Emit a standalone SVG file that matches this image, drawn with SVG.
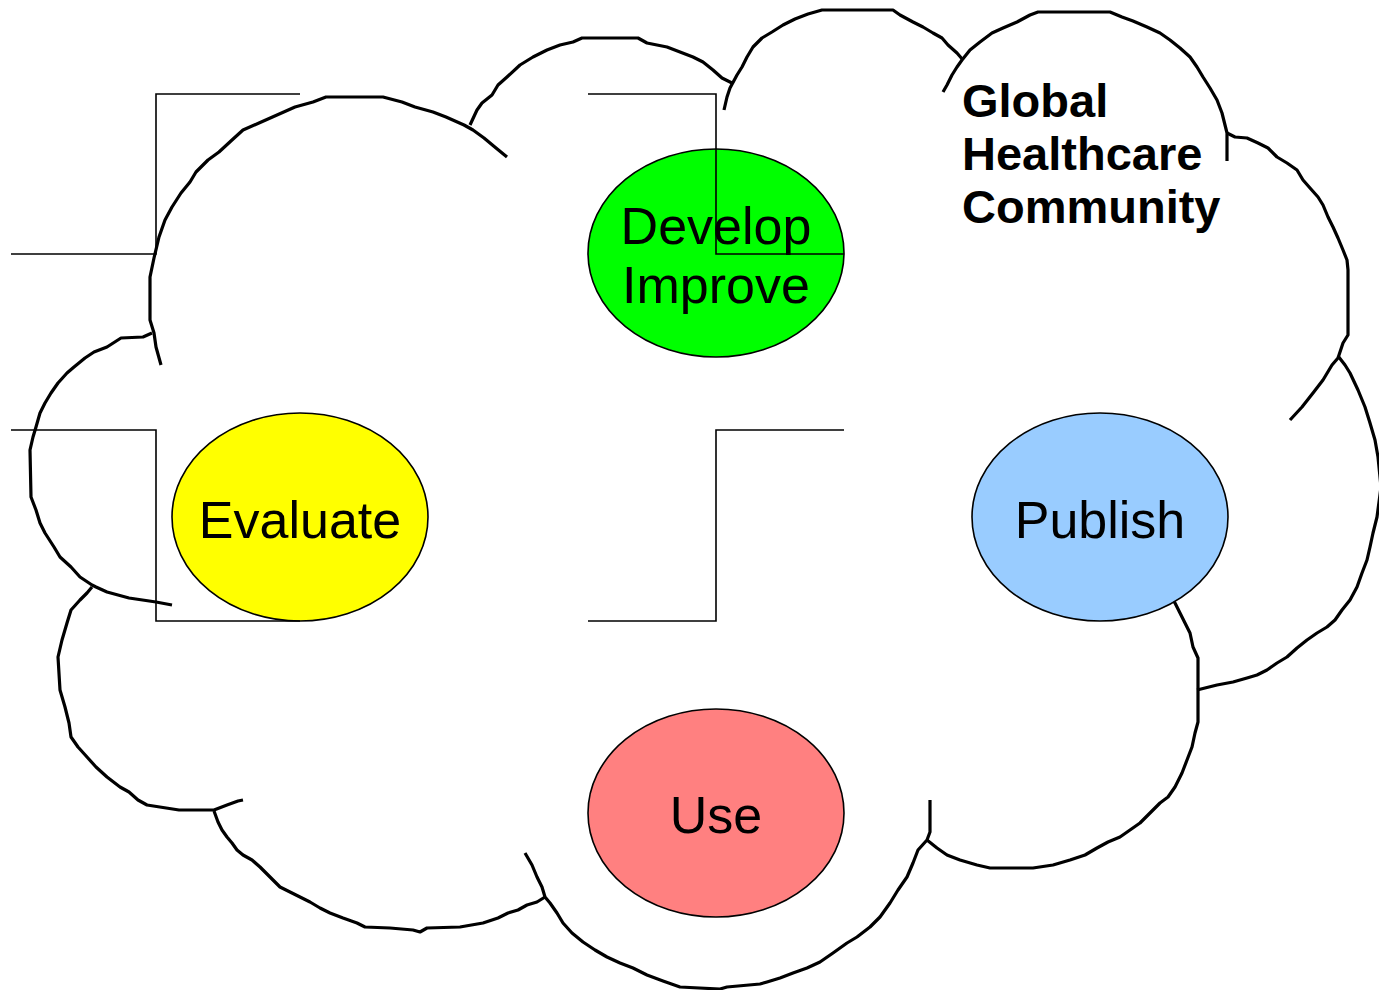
<svg xmlns="http://www.w3.org/2000/svg" width="1379" height="990" viewBox="0 0 1379 990">
<style>
.cloud{fill:none;stroke:#000;stroke-width:3.2;stroke-linejoin:round;stroke-linecap:butt}
.conn{fill:none;stroke:#000;stroke-width:1.6}
.node{stroke:#000;stroke-width:1.6}
.lbl{font-family:"Liberation Sans",Arial,sans-serif;font-size:52px;fill:#000;text-anchor:middle}
.title{font-family:"Liberation Sans",Arial,sans-serif;font-size:47px;font-weight:bold;fill:#000}
</style>
<rect width="1379" height="990" fill="#fff"/>
<g id="cloud">
<path class="cloud" d="M161,365 L156,347 L154,333 L150,320 L150,277 L154,258 L159,237 L165,220 L172,207 L181,193 L190,182 L196,172 L208,160 L219,152 L232,140 L243,130 L259,123 L277,115 L295,107 L313,102 L326,97 L383,97 L402,102 L415,107 L433,112 L446,117 L464,125 L473,130 L484,138 L496,148 L507,157"/>
<path class="cloud" d="M470,125 L477,110 L482,103 L492,95 L498,85 L507,77 L520,65 L533,57 L547,50 L560,45 L573,42 L582,38 L638,38 L647,43 L667,47 L680,52 L693,57 L703,62 L713,70 L722,78 L732,83"/>
<path class="cloud" d="M724,110 L727,97 L730,88 L737,75 L742,67 L747,57 L753,47 L762,38 L772,32 L783,25 L795,19 L808,14 L822,10 L893,10 L900,15 L913,22 L923,27 L933,33 L942,38 L948,45 L957,53 L963,60"/>
<path class="cloud" d="M943,92 L947,85 L952,75 L957,67 L962,60 L970,50 L980,42 L992,33 L1003,28 L1017,22 L1030,15 L1038,12 L1110,12 L1122,17 L1133,21 L1147,27 L1160,33 L1170,40 L1180,48 L1190,57 L1197,67 L1203,77 L1210,88 L1217,100 L1222,113 L1225,125 L1227,133 L1227,161"/>
<path class="cloud" d="M1227,133 L1235,137 L1247,138 L1258,143 L1268,148 L1277,157 L1287,163 L1297,170 L1303,180 L1310,188 L1318,197 L1323,205 L1328,217 L1333,227 L1338,238 L1343,250 L1347,260 L1348,270 L1348,335 L1343,343 L1340,352 L1338,358 L1332,365 L1323,380 L1313,393 L1302,407 L1290,420"/>
<path class="cloud" d="M1338,356 L1345,365 L1350,373 L1358,390 L1365,407 L1370,423 L1375,440 L1378,457 L1381,487 L1377,517 L1373,533 L1370,547 L1367,560 L1362,573 L1357,587 L1350,600 L1342,610 L1335,620 L1327,627 L1317,633 L1307,640 L1297,648 L1287,657 L1277,663 L1267,670 L1257,675 L1247,678 L1233,682 L1217,685 L1205,688 L1197,690"/>
<path class="cloud" d="M1165,590 L1175,603 L1180,613 L1185,623 L1190,633 L1193,647 L1198,658 L1198,722 L1195,733 L1192,747 L1187,760 L1182,773 L1175,787 L1168,797 L1160,803 L1150,813 L1140,823 L1130,830 L1120,837 L1108,842 L1097,848 L1085,855 L1070,860 L1053,865 L1033,868 L990,868 L977,865 L960,860 L947,855 L937,848 L927,840"/>
<path class="cloud" d="M930,800 L930,832 L927,840 L918,850 L913,863 L907,877 L898,890 L890,903 L880,917 L870,927 L857,937 L847,943 L833,953 L820,962 L807,968 L793,973 L780,978 L767,982 L760,984 L727,987 L720,989 L680,987 L663,981 L647,975 L633,968 L620,963 L607,957 L595,950 L583,942 L572,933 L563,923 L557,913 L550,903 L545,897 L542,887 L537,877 L532,865 L525,853"/>
<path class="cloud" d="M545,897 L537,902 L527,905 L518,910 L508,913 L498,918 L483,923 L460,927 L427,928 L420,932 L413,930 L390,928 L365,927 L357,923 L343,918 L330,913 L320,908 L310,902 L300,897 L290,892 L280,887 L270,877 L260,867 L252,860 L243,855 L237,850 L232,843 L227,837 L222,830 L218,822 L214,811"/>
<path class="cloud" d="M243,800 L238,801 L227,805 L214,810 L179,810 L147,805 L138,800 L129,792 L120,787 L107,777 L96,767 L87,757 L78,747 L71,737 L69,723 L65,707 L60,690 L58,657 L62,640 L67,623 L71,610 L80,600 L87,593 L92,587"/>
<path class="cloud" d="M172,605 L156,602 L129,598 L107,592 L96,587 L92,585 L80,577 L71,567 L60,557 L54,547 L45,533 L40,523 L36,510 L31,497 L30,450 L33,437 L36,427 L40,413 L45,403 L51,393 L58,383 L67,373 L74,367 L85,358 L94,352 L107,347 L121,338 L143,337 L152,333"/>
</g>
<g id="node-develop">
<ellipse class="node" cx="716" cy="253" rx="128" ry="104" fill="#00FF00"/>
</g>
<g id="node-evaluate">
<ellipse class="node" cx="300" cy="517" rx="128" ry="104" fill="#FFFF00"/>
<text class="lbl" x="300" y="538">Evaluate</text>
</g>
<g id="node-publish">
<ellipse class="node" cx="1100" cy="517" rx="128" ry="104" fill="#99CCFF"/>
<text class="lbl" x="1100" y="538">Publish</text>
</g>
<g id="node-use">
<ellipse class="node" cx="716" cy="813" rx="128" ry="104" fill="#FF8080"/>
<text class="lbl" x="716" y="833">Use</text>
</g>
<g id="connectors">
<path class="conn" d="M11,254 H156 V94 H300"/>
<path class="conn" d="M588,94 H716 V254 H844"/>
<path class="conn" d="M11,430 H156 V621 H300"/>
<path class="conn" d="M844,430 H716 V621 H588"/>
</g>
<g id="develop-label">
<text class="lbl" x="716" y="244">Develop</text>
<text class="lbl" x="716" y="303">Improve</text>
</g>
<g id="title">
<text class="title" x="962" y="117">Global</text>
<text class="title" x="962" y="170">Healthcare</text>
<text class="title" x="962" y="223">Community</text>
</g>
</svg>
